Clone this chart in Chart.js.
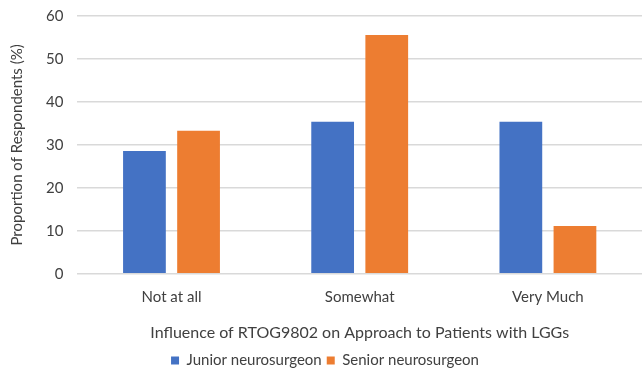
<!DOCTYPE html>
<html>
<head>
<meta charset="utf-8">
<script src="https://cdn.jsdelivr.net/npm/chart.js@4.4.0/dist/chart.umd.min.js"></script>
<style>
    html, body { margin: 0; padding: 0; background: #ffffff; }
    #wrap { width: 644px; height: 374px; }
</style>
</head>
<body>
<div id="wrap"><canvas id="rtogChart" width="644" height="374"></canvas></div>
<script>
    const categories = ['Not at all', 'Somewhat', 'Very Much'];
    const juniorValues = [28.6, 35.4, 35.4];
    const seniorValues = [33.3, 55.6, 11.1];
    const yTicks = [0, 10, 20, 30, 40, 50, 60];

    const textColor = '#404040';
    const fontFamily = 'Lato, "Open Sans", sans-serif';

    const ctx = document.getElementById('rtogChart').getContext('2d');
    new Chart(ctx, {
        type: 'bar',
        data: {
            labels: categories,
            datasets: [{
                label: 'Junior neurosurgeon',
                data: juniorValues,
                backgroundColor: '#4472C4',
                categoryPercentage: 0.575,
                barPercentage: 0.79
            }, {
                label: 'Senior neurosurgeon',
                data: seniorValues,
                backgroundColor: '#ED7D31',
                categoryPercentage: 0.575,
                barPercentage: 0.79
            }]
        },
        options: {
            responsive: false,
            animation: false,
            layout: {
                padding: { top: 16, right: 2, left: 8, bottom: -4 }
            },
            plugins: {
                legend: {
                    position: 'bottom',
                    labels: {
                        color: textColor,
                        boxWidth: 8,
                        boxHeight: 8,
                        padding: 5,
                        font: { family: fontFamily, size: 15 }
                    }
                },
                tooltip: { enabled: false }
            },
            scales: {
                x: {
                    grid: { display: false, drawTicks: false },
                    border: { display: false },
                    ticks: {
                        color: textColor,
                        padding: 14,
                        font: { family: fontFamily, size: 15 }
                    },
                    title: {
                        display: true,
                        text: 'Influence of RTOG9802 on Approach to Patients with LGGs',
                        color: textColor,
                        padding: { top: 3, bottom: 6 },
                        font: { family: fontFamily, size: 16 }
                    }
                },
                y: {
                    min: 0,
                    max: 60,
                    afterBuildTicks: function (axis) {
                        axis.ticks = yTicks.map(function (v) { return { value: v }; });
                    },
                    afterFit: function (axis) {
                        axis.paddingTop = 0;
                    },
                    grid: { color: '#d9d9d9', lineWidth: 1.5, drawTicks: false },
                    border: { display: false },
                    ticks: {
                        color: textColor,
                        padding: 14,
                        font: { family: fontFamily, size: 15 }
                    },
                    title: {
                        display: true,
                        text: 'Proportion of Respondents (%)',
                        color: textColor,
                        padding: { top: 0, bottom: 6 },
                        font: { family: fontFamily, size: 15 }
                    }
                }
            }
        }
    });
</script>
</body>
</html>
